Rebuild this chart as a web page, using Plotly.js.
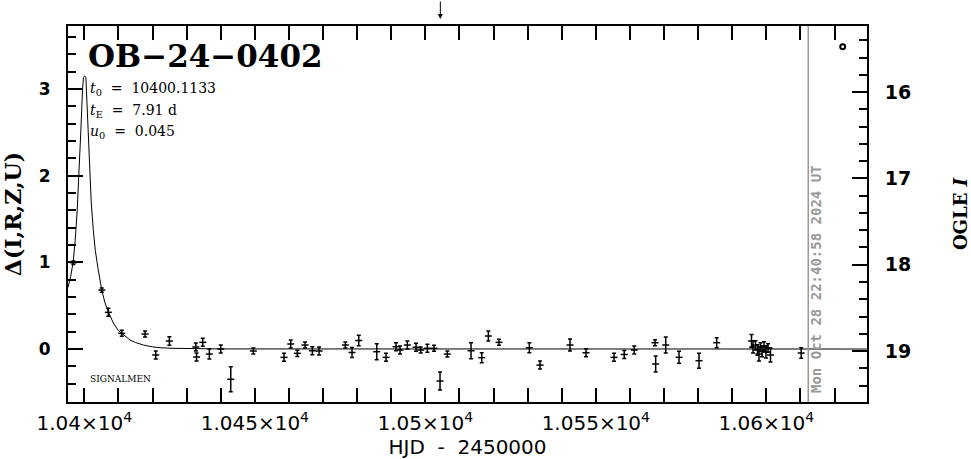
<!DOCTYPE html>
<html>
<head>
<meta charset="utf-8">
<script src="https://cdn.plot.ly/plotly-3.0.1.min.js"></script>
<style>html,body{margin:0;padding:0;background:#fff;}#chart{width:971px;height:459px;}</style>
</head>
<body>
<div id="chart"></div>
<script>
// Observed photometry (HJD-2450000, Delta, error)
const obsT = [10396.77, 10405.10, 10407.04, 10410.97, 10417.80, 10420.94, 10424.93, 10432.70, 10432.90, 10434.72,
  10436.66, 10440.00, 10442.93, 10449.56, 10458.56, 10460.53, 10462.46, 10464.72, 10466.86, 10468.83,
  10476.54, 10478.50, 10480.47, 10485.75, 10488.48, 10491.41, 10492.58, 10494.72, 10497.27, 10498.65,
  10500.59, 10502.55, 10504.31, 10506.45, 10513.40, 10516.54, 10518.48, 10521.61, 10530.50, 10533.64,
  10542.43, 10547.13, 10555.34, 10558.33, 10561.26, 10567.36, 10567.55, 10570.50, 10574.40, 10580.27,
  10585.45, 10595.66, 10596.10, 10596.83, 10597.42, 10597.86, 10598.30, 10598.74, 10599.33, 10599.91,
  10600.50, 10601.23, 10610.23];
const obsD = [0.995, 0.680, 0.423, 0.181, 0.173, -0.069, 0.092, 0.023, -0.092, 0.077,
  -0.058, 0.000, -0.349, -0.023, -0.096, 0.058, -0.050, 0.046, -0.020, -0.023,
  0.046, -0.040, 0.098, -0.031, -0.096, 0.027, -0.012, 0.046, 0.020, -0.012,
  0.008, 0.008, -0.369, -0.058, -0.020, -0.100, 0.150, 0.077, 0.015, -0.185,
  0.046, -0.043, -0.096, -0.063, -0.012, 0.073, -0.173, 0.046, -0.096, -0.135,
  0.073, 0.092, 0.023, 0.046, -0.012, -0.058, 0.023, -0.029, 0.035, -0.035,
  0.012, -0.069, -0.046];
const obsErr = [0.02, 0.025, 0.046, 0.035, 0.035, 0.046, 0.05, 0.046, 0.046, 0.046,
  0.058, 0.046, 0.144, 0.035, 0.046, 0.046, 0.035, 0.035, 0.046, 0.046,
  0.035, 0.058, 0.06, 0.092, 0.046, 0.046, 0.046, 0.046, 0.046, 0.035,
  0.046, 0.035, 0.104, 0.035, 0.092, 0.058, 0.058, 0.035, 0.058, 0.046,
  0.069, 0.046, 0.046, 0.046, 0.046, 0.035, 0.092, 0.092, 0.069, 0.086,
  0.058, 0.075, 0.07, 0.05, 0.06, 0.08, 0.05, 0.06, 0.05, 0.07,
  0.05, 0.08, 0.06];

// Model curve
const modelT = [10395.2, 10396.0, 10396.7, 10397.3, 10397.9, 10398.45, 10399.0, 10399.47, 10399.75, 10400.1,
  10400.45, 10401.1, 10401.5, 10402.0, 10402.6, 10403.2, 10404.0, 10405.1, 10406.0, 10407.0,
  10408.5, 10410.0, 10411.0, 10413.4, 10415.0, 10417.3, 10420.0, 10422.2, 10426.0, 10431.0,
  10440.0, 10629.5];
const modelD = [0.71, 0.84, 1.0, 1.25, 1.6, 2.0, 2.55, 3.0, 3.13, 3.15,
  3.13, 2.53, 2.1, 1.70, 1.38, 1.14, 0.93, 0.68, 0.54, 0.43,
  0.30, 0.21, 0.18, 0.104, 0.075, 0.046, 0.025, 0.015, 0.008, 0.004,
  0.001, 0.0];

// Axis ticks
const xTickVals = [10400, 10450, 10500, 10550, 10600];
const xTickText = ['1.04×10<sup>4</sup>', '1.045×10<sup>4</sup>', '1.05×10<sup>4</sup>', '1.055×10<sup>4</sup>', '1.06×10<sup>4</sup>'];
const yTickVals = [0, 1, 2, 3];
const y2TickVals = [16, 17, 18, 19];

// Event info
const eventName = 'OB−24−0402';
const paramLines = ['<i>t</i><sub>0</sub>&nbsp; = &nbsp;10400.1133', '<i>t</i><sub>E</sub>&nbsp; = &nbsp;7.91 d', '<i>u</i><sub>0</sub>&nbsp; = &nbsp;0.045'];
const nowT = 10612.3;
const nowLabel = 'Mon Oct 28 22:40:58 2024 UT';
const arrowT = 10504.4;

const xr = [10395.2, 10629.53];
const yr = [-0.611, 3.725];
const y2r = [19.59, 15.235];

const traces = [
  {x: modelT, y: modelD, type: 'scatter', mode: 'lines', line: {color: '#000', width: 1}, hoverinfo: 'skip', showlegend: false},
  {x: obsT, y: obsD, type: 'scatter', mode: 'markers',
   marker: {symbol: 'line-ew', size: 5, color: '#000', line: {color: '#000', width: 1.5}},
   error_y: {type: 'data', array: obsErr, visible: true, color: '#000', thickness: 1.5, width: 2},
   showlegend: false},
  {x: [], y: [], yaxis: 'y2', type: 'scatter', mode: 'markers', showlegend: false}
];

const tickFontX = {family: 'DejaVu Sans', size: 20, color: '#000'};
const layout = {
  width: 971, height: 459,
  margin: {l: 68, r: 104, t: 26, b: 57},
  paper_bgcolor: '#fff', plot_bgcolor: '#fff',
  showlegend: false,
  title: {text: eventName, x: 88/971, xref: 'container', xanchor: 'left', y: 1 - 56/459, yref: 'container', yanchor: 'middle',
          font: {family: 'DejaVu Serif', size: 31, color: '#000', weight: 'bold'}},
  xaxis: {range: xr, showgrid: false, zeroline: false, showline: true, linecolor: '#000', linewidth: 2,
          mirror: 'allticks', ticks: 'inside', ticklen: 14, tickwidth: 2, tickcolor: '#000',
          tickvals: xTickVals, ticktext: xTickText, tickfont: tickFontX, ticklabelstandoff: 2,
          minor: {dtick: 10, ticks: 'inside', ticklen: 7, tickwidth: 2, tickcolor: '#000', showgrid: false},
          title: {text: 'HJD &nbsp;-&nbsp; 2450000', font: {family: 'DejaVu Sans', size: 20, color: '#000'}, standoff: 4},
          automargin: false},
  yaxis: {range: yr, showgrid: false, zeroline: false, showline: true, linecolor: '#000', linewidth: 2,
          ticks: 'inside', ticklen: 15, tickwidth: 2, tickcolor: '#000', tickvals: yTickVals,
          tickfont: {family: 'DejaVu Sans', size: 17, color: '#000', weight: 'bold'}, ticklabelstandoff: 12,
          minor: {dtick: 0.2, ticks: 'inside', ticklen: 8, tickwidth: 2, tickcolor: '#000', showgrid: false},
          title: {text: 'Δ(I,R,Z,U)', font: {family: 'DejaVu Serif', size: 22, color: '#000', weight: 'bold'}, standoff: 14},
          automargin: false},
  yaxis2: {overlaying: 'y', side: 'right', range: y2r, showgrid: false, zeroline: false, showline: true,
          linecolor: '#000', linewidth: 2, ticks: 'inside', ticklen: 15, tickwidth: 2, tickcolor: '#000',
          tickvals: y2TickVals, tickfont: {family: 'DejaVu Sans', size: 19, color: '#000', weight: 'bold'}, ticklabelstandoff: 12,
          minor: {dtick: 0.2, ticks: 'inside', ticklen: 8, tickwidth: 2, tickcolor: '#000', showgrid: false},
          title: {text: 'OGLE <i>I</i>', font: {family: 'DejaVu Serif', size: 18, color: '#000', weight: 'bold'}, standoff: 46},
          automargin: false},
  shapes: [
    {type: 'line', xref: 'x', yref: 'paper', x0: nowT, x1: nowT, y0: 0, y1: 1, line: {color: '#999', width: 1.5}},
    {type: 'circle', xref: 'paper', yref: 'paper', x0: 0.9696 - 0.0031, x1: 0.9696 + 0.0031, y0: 0.945 - 0.0066, y1: 0.945 + 0.0066,
     line: {color: '#000', width: 2}}
  ],
  annotations: [
    ...paramLines.map((t, i) => ({text: t, xref: 'paper', yref: 'paper', x: 20/799, xanchor: 'left',
      y: (402 - [89, 111, 132][i]) / 376, yanchor: 'middle', showarrow: false,
      font: {family: 'DejaVu Serif', size: 14, color: '#000'}})),
    {text: 'SIGNALMEN', xref: 'paper', yref: 'paper', x: 20/799, xanchor: 'left', y: (402 - 379) / 376, yanchor: 'middle',
     showarrow: false, font: {family: 'DejaVu Serif', size: 9, color: '#000'}},
    {text: nowLabel, xref: 'paper', yref: 'paper', x: (816 - 68) / 799, xanchor: 'center', y: (402 - 279) / 376, yanchor: 'middle',
     textangle: -90, showarrow: false, font: {family: 'DejaVu Sans Mono', size: 14, color: '#999', weight: 'bold'}},
    {text: '', xref: 'x', yref: 'paper', x: arrowT, y: (402 - 19) / 376, ax: 0, ay: -19, axref: 'pixel', ayref: 'pixel',
     showarrow: true, arrowhead: 2, arrowsize: 1, arrowwidth: 1, arrowcolor: '#000'}
  ]
};

Plotly.newPlot('chart', traces, layout, {staticPlot: true, displayModeBar: false});
</script>
</body>
</html>
